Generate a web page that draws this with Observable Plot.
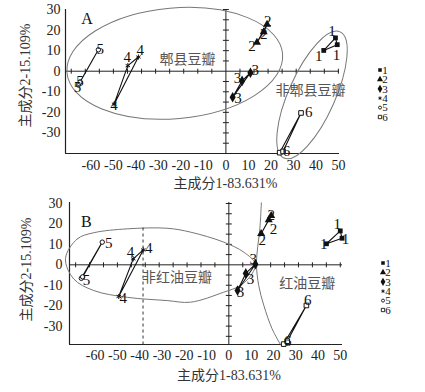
<!DOCTYPE html>
<html><head><meta charset="utf-8">
<script src="https://cdn.jsdelivr.net/npm/d3@7"></script>
<script src="https://cdn.jsdelivr.net/npm/@observablehq/plot@0.6"></script>
<style>
body{margin:0;background:#fff}
#chart{width:425px;height:392px;overflow:hidden;background:#fff}
#chart svg{display:block}
</style>
</head><body><div id="chart"></div>
<script>
// ---------- data ----------
const samples = ["1", "2", "3", "4", "5", "6"];
const xTitle = "主成分1-83.631%";
const yTitle = "主成分2-15.109%";
const xTicks = [-60, -50, -40, -30, -20, -10, 0, 10, 20, 30, 40, 50];
const yTicks = [-30, -20, -10, 0, 10, 20, 30];
const innerXTicks = [-68.75, -62.5, -56.25, -50, -43.75, -37.5, -31.25, -25, -18.75, -12.5, -6.25, 6.25, 12.5, 18.75, 25, 31.25, 37.5, 43.75, 50];
const innerYTicks = [-35, -30, -25, -20, -15, -10, -5, 5, 10, 15, 20, 25, 30];

// panel A: three replicates per sample
const aX = [[43.5, 48.7, 49.5], [13.8, 16.8, 18.3], [10.9, 7.2, 3.0], [-43.6, -38.9, -49.7], [-56.7, -65.6, -64.8], [33.4, 23.9, 25.4]];
const aY = [[10.1, 16.2, 12.9], [14.0, 19.1, 22.7], [-0.7, -4.7, -12.7], [2.7, 6.9, -16.0], [10.4, -6.7, -5.2], [-20.3, -39.6, -39.0]];
const aLabels = [
  [47.2, 19.4, "1"], [41.3, 7.1, "1"], [49.2, 8.0, "1"],
  [11.6, 12.0, "2"], [18.6, 24.3, "2"], [16.8, 17.8, "2"],
  [13.1, 0.6, "3"], [5.2, -3.4, "3"], [5.4, -13.2, "3"],
  [-43.8, 6.9, "4"], [-38.1, 10.4, "4"], [-49.7, -16.5, "4"],
  [-55.9, 10.8, "5"], [-64.8, -5.0, "5"], [-66.0, -7.6, "5"],
  [36.8, -19.8, "6"], [26.9, -38.9, "6"]
];
const aNotes = [[-17.1, 5.5, "郫县豆瓣"], [37.6, -9.2, "非郫县豆瓣"]];
const aEllipses = [
  {cx: -22.5, cy: 3.6, rx: 48.1, ry: 26.9, rot: -5},
  {cx: 38.5, cy: -11.8, rx: 30.7, ry: 11.3, rot: -66}
];

// panel B
const bX = [[43.8, 50.0, 50.8], [14.5, 17.9, 19.0], [11.9, 7.6, 3.9], [-42.9, -38.4, -49.4], [-56.8, -66.2, -65.6], [34.8, 24.6, 26.2]];
const bY = [[10.3, 16.6, 13.0], [15.2, 22.0, 24.1], [0.3, -4.2, -12.6], [2.9, 7.3, -15.5], [11.1, -6.6, -5.9], [-19.9, -38.8, -37.4]];
const bLabels = [
  [48.6, 20.1, "1"], [42.6, 9.9, "1"], [52.3, 12.7, "1"],
  [15.0, 11.9, "2"], [19.0, 24.3, "2"], [20.0, 17.6, "2"],
  [10.9, 2.9, "3"], [9.7, -6.9, "3"], [5.2, -13.4, "3"],
  [-44.1, 6.2, "4"], [-35.9, 8.3, "4"], [-47.4, -16.2, "4"],
  [-53.9, 10.8, "5"], [-63.9, -7.3, "5"],
  [35.4, -17.5, "6"], [26.4, -37.4, "6"]
];
const bNotes = [[-23.3, -6.2, "非红油豆瓣"], [35.2, -9.2, "红油豆瓣"]];
const bOutline = [
  [-73.3, 3.1], [-68.0, 12.7], [-60.6, 15.7], [-45.6, 17.6], [-27.7, 17.9], [-17.2, 16.0],
  [-2.3, 11.1], [6.7, 6.2], [11.9, 0.5], [10.4, -4.4], [5.2, -10.1], [-2.3, -13.4],
  [-17.2, -18.3], [-27.7, -17.5], [-45.6, -15.9], [-60.6, -12.6], [-69.6, -6.9]
];
const bArc = [[14.6, 30.4], [13.9, 17.6], [12.7, 6.2], [12.4, -0.3], [13.4, -10.1], [15.7, -19.9], [19.4, -31.3], [23.1, -38.9]];
const bDivider = [{x: -38.5, y1: 18, y2: -39}];

// ---------- styles ----------
const serif = '"Liberation Serif","Times New Roman","Noto Sans CJK SC",serif';
const cjk = '"Liberation Serif","Noto Sans CJK SC",serif';
const sampleStyles = [
  {symbol: "square", fill: "#111", stroke: "none", r: 2.7, lr: 2.0},
  {symbol: "triangle", fill: "#111", stroke: "none", r: 3.0, lr: 2.3},
  {symbol: "diamond", fill: "#111", stroke: "none", r: 3.2, lr: 2.5},
  {symbol: "asterisk", fill: "none", stroke: "#111", r: 2.4, lr: 1.7},
  {symbol: "circle", fill: "white", stroke: "#111", r: 2.2, lr: 1.5},
  {symbol: "square", fill: "white", stroke: "#111", r: 2.6, lr: 1.9}
];
const symbolMap = {square: d3.symbolSquare, triangle: d3.symbolTriangle, diamond: d3.symbolDiamond, asterisk: d3.symbolAsterisk, circle: d3.symbolCircle};
const vTick = {draw(c) { c.moveTo(0, -2.5); c.lineTo(0, 2.5); }};
const hTick = {draw(c) { c.moveTo(-3, 0); c.lineTo(3, 0); }};

function ellipseMark(list) {
  return (index, scales) => {
    const g = d3.create("svg:g");
    for (const e of list) {
      const cx = scales.x(e.cx), cy = scales.y(e.cy);
      const rx = Math.abs(scales.x(e.cx + e.rx) - cx);
      const ry = Math.abs(scales.y(e.cy + e.ry) - cy);
      g.append("ellipse").attr("rx", rx).attr("ry", ry)
        .attr("transform", `translate(${cx},${cy}) rotate(${e.rot})`)
        .attr("fill", "none").attr("stroke", "#777").attr("stroke-width", 1);
    }
    return g.node();
  };
}

function legendMark(dxFrame, dyFrame) {
  return (index, scales, values, dims) => {
    const g = d3.create("svg:g");
    const x0 = dims.width - dims.marginRight + dxFrame;
    const y0 = dims.marginTop + dyFrame;
    sampleStyles.forEach((st, i) => {
      const y = y0 + i * 9.4;
      g.append("path")
        .attr("d", d3.symbol(symbolMap[st.symbol], st.lr * st.lr * Math.PI)())
        .attr("transform", `translate(${x0},${y})`)
        .attr("fill", st.fill).attr("stroke", st.stroke).attr("stroke-width", 0.9);
      g.append("text").attr("x", x0 + 5).attr("y", y).attr("dy", "0.35em")
        .attr("font-size", 11).attr("font-family", serif).attr("fill", "#111")
        .text(samples[i]);
    });
    return g.node();
  };
}

function buildPanel(p) {
  const pts = [];
  samples.forEach((s, i) => p.xs[i].forEach((x, j) => pts.push({s, i, x, y: p.ys[i][j]})));
  const labs = p.labels.map(([x, y, t]) => ({x, y, t}));
  const notes = p.notes.map(([x, y, t]) => ({x, y, t}));
  const marks = [
    Plot.ruleY([0], {stroke: "#222", strokeWidth: 1}),
    Plot.ruleX([0], {stroke: "#222", strokeWidth: 1}),
    Plot.dot(innerXTicks, {x: d => d, y: () => 0, symbol: vTick, fill: "none", stroke: "#222", strokeWidth: 1}),
    Plot.dot(innerYTicks, {x: () => 0, y: d => d, symbol: hTick, fill: "none", stroke: "#222", strokeWidth: 1}),
    Plot.ruleX([p.xDomain[0]], {stroke: "#222", strokeWidth: 1.2}),
    Plot.ruleY([p.yDomain[0]], {stroke: "#222", strokeWidth: 1.2}),
    ...p.extra,
    Plot.line(pts, {x: "x", y: "y", z: "s", curve: "linear-closed", stroke: "#111", strokeWidth: 1.1}),
    ...sampleStyles.map((st, i) => Plot.dot(pts.filter(d => d.i === i), {
      x: "x", y: "y", symbol: st.symbol, r: st.r, fill: st.fill, stroke: st.stroke, strokeWidth: 1
    })),
    Plot.text(labs, {x: "x", y: "y", text: "t", fontSize: 15, fontFamily: serif, fill: "#111"}),
    Plot.text(notes, {x: "x", y: "y", text: "t", fontSize: 14, fontFamily: cjk, fill: "#555"}),
    Plot.text([p.letter], {x: () => p.letterPos[0], y: () => p.letterPos[1], text: d => d, fontSize: 16, fontFamily: serif, fill: "#111"}),
    Plot.text([xTitle], {frameAnchor: "bottom", textAnchor: "middle", lineAnchor: "middle", dx: p.xtDx, dy: p.xtDy, text: d => d, fontSize: 14, fontFamily: cjk, fill: "#333"}),
    Plot.text([yTitle], {frameAnchor: "left", textAnchor: "middle", lineAnchor: "middle", dx: p.ytDx, dy: p.ytDy, rotate: -90, text: d => d, fontSize: 14, fontFamily: cjk, fill: "#333"}),
    legendMark(p.legDx, 61)
  ];
  return Plot.plot({
    width: 425,
    height: p.height,
    marginLeft: p.ml, marginRight: p.mr, marginTop: p.mt, marginBottom: p.mb,
    style: {fontFamily: serif, fontSize: "14px", color: "#222", background: "white", overflow: "visible"},
    x: {domain: p.xDomain, ticks: xTicks, tickSize: 0, tickPadding: p.xPad, tickFormat: d => String(d), label: null},
    y: {domain: p.yDomain, ticks: yTicks, tickSize: 0, tickPadding: p.yPad, tickFormat: d => String(d), label: null},
    marks
  });
}

const chart = document.getElementById("chart");
chart.append(buildPanel({
  xs: aX, ys: aY, labels: aLabels, notes: aNotes,
  xDomain: [-71.3, 50.5], yDomain: [-40, 30],
  height: 192, ml: 65, mr: 86, mt: 9, mb: 39, xPad: 7, yPad: 5,
  letter: "A", letterPos: [-61.7, 25.6],
  xtDx: 23, xtDy: 30, ytDx: -40, ytDy: -6, legDx: 41,
  extra: [ellipseMark(aEllipses)]
}));
chart.append(buildPanel({
  xs: bX, ys: bY, labels: bLabels, notes: bNotes,
  xDomain: [-71.5, 51], yDomain: [-39, 30.5],
  height: 200, ml: 69, mr: 83, mt: 10, mb: 48, xPad: 6, yPad: 7,
  letter: "B", letterPos: [-63.9, 21.2],
  xtDx: 23, xtDy: 31, ytDx: -43, ytDy: -4, legDx: 41,
  extra: [
    Plot.line(bOutline, {x: d => d[0], y: d => d[1], curve: "catmull-rom-closed", stroke: "#777", strokeWidth: 1}),
    Plot.line(bArc, {x: d => d[0], y: d => d[1], curve: "catmull-rom", stroke: "#777", strokeWidth: 1}),
    Plot.ruleX(bDivider, {x: "x", y1: "y1", y2: "y2", stroke: "#333", strokeWidth: 1, strokeDasharray: "3,3"})
  ]
}));
</script></body></html>
